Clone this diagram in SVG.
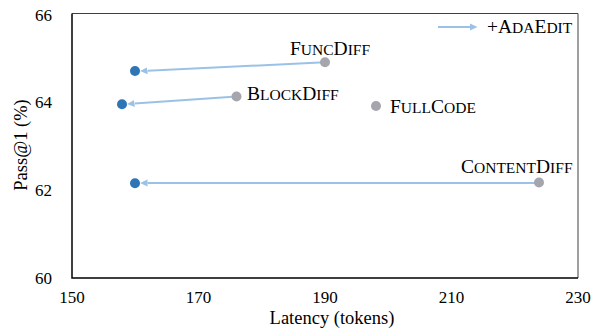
<svg xmlns="http://www.w3.org/2000/svg" width="600" height="329" viewBox="0 0 600 329">
<style>
text{font-family:"Liberation Serif","Times New Roman",serif;fill:#000}
.tick{font-size:17px}
.title{font-size:18.5px}
.lab{font-size:19.5px}
.sc{font-size:15.5px}
.conn{stroke:#9BC2E6;stroke-width:2;fill:none;marker-end:url(#ah)}
.gray{fill:#A5A5AD}
.blue{fill:#2E75B6}
</style>
<defs>
<marker id="ah" viewBox="0 -4 8 8" markerUnits="userSpaceOnUse" markerWidth="8" markerHeight="8" refX="0" refY="0" orient="auto">
<path d="M0,-3.5 L7.5,0 L0,3.5 Z" fill="#9BC2E6"/>
</marker>
</defs>
<g id="axes">
<path d="M72,13.5 H578 V278" fill="none" stroke="#404040" stroke-width="1"/>
<path d="M72,13.5 V278 H578" fill="none" stroke="#000" stroke-width="1.5"/>
<g class="tick" text-anchor="end">
<text x="52" y="21">66</text>
<text x="52" y="107.5">64</text>
<text x="52" y="196">62</text>
<text x="52" y="284">60</text>
</g>
<g class="tick" text-anchor="middle">
<text x="72" y="303">150</text>
<text x="198.5" y="303">170</text>
<text x="325" y="303">190</text>
<text x="451.5" y="303">210</text>
<text x="578" y="303">230</text>
</g>
<text class="title" text-anchor="middle" x="332" y="324">Latency (tokens)</text>
<text class="title" text-anchor="middle" transform="translate(27,145) rotate(-90)">Pass@1 (%)</text>
</g>
<g id="connectors">
<line class="conn" x1="325" y1="62.3" x2="147.5" y2="70.65"/>
<line class="conn" x1="236.5" y1="96.5" x2="134.5" y2="103.45"/>
<line class="conn" x1="539" y1="183" x2="147.5" y2="183"/>
</g>
<g id="legend">
<line class="conn" x1="438" y1="27" x2="470" y2="27"/>
<text class="lab" x="487" y="33">+A<tspan class="sc">DA</tspan>E<tspan class="sc">DIT</tspan></text>
</g>
<g id="funcdiff">
<circle class="gray" cx="325" cy="62.3" r="5"/>
<circle class="blue" cx="135" cy="71" r="5"/>
<text class="lab" x="290" y="55">F<tspan class="sc">UNC</tspan>D<tspan class="sc">IFF</tspan></text>
</g>
<g id="blockdiff">
<circle class="gray" cx="236.5" cy="96.5" r="5"/>
<circle class="blue" cx="122" cy="104.3" r="5"/>
<text class="lab" x="247" y="100">B<tspan class="sc">LOCK</tspan>D<tspan class="sc">IFF</tspan></text>
</g>
<g id="fullcode">
<circle class="gray" cx="376" cy="106" r="5"/>
<text class="lab" x="390" y="113">F<tspan class="sc">ULL</tspan>C<tspan class="sc">ODE</tspan></text>
</g>
<g id="contentdiff">
<circle class="gray" cx="539" cy="182.5" r="5"/>
<circle class="blue" cx="135" cy="183.3" r="5"/>
<text class="lab" x="461" y="173">C<tspan class="sc">ONTENT</tspan>D<tspan class="sc">IFF</tspan></text>
</g>
</svg>
